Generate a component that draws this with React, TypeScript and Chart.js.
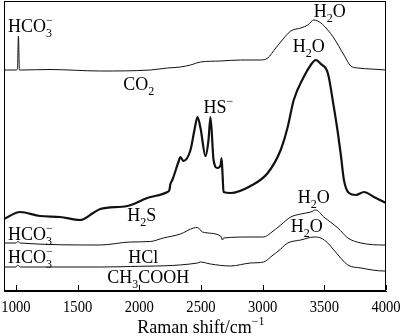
import React, { useEffect, useRef } from "react";
import { Chart, registerables } from "chart.js";

Chart.register(...registerables);

// ---- data (Raman shift in cm^-1, intensity in offset arbitrary units) ----
const xTickValues = [1000, 1500, 2000, 2500, 3000, 3500, 4000];

const co2Shift = [903, 1000, 1012, 1020, 1028, 1041, 1276, 1683, 2089, 2228, 2333, 2415, 2496, 2659, 2821, 2984, 3041, 3106, 3146, 3228, 3309, 3366, 3415, 3472, 3528, 3577, 3659, 3715, 3772, 3878, 4000];
const co2Int = [221, 221, 222, 255, 221, 221, 221.5, 220, 221, 223, 224, 226, 229, 230, 231, 231, 233, 243, 249, 260, 263, 266, 271, 268, 261, 253, 236, 225, 223, 222, 221];

const h2sShift = [903, 1033, 1195, 1358, 1520, 1626, 1683, 1902, 2065, 2228, 2244, 2252, 2268, 2317, 2333, 2358, 2415, 2447, 2472, 2496, 2537, 2561, 2577, 2602, 2634, 2659, 2667, 2675, 2683, 2740, 2902, 3041, 3146, 3203, 3252, 3333, 3390, 3431, 3472, 3528, 3577, 3610, 3634, 3659, 3699, 3756, 3821, 3902, 4000];
const h2sInt = [72, 79, 75, 74, 71, 78, 82, 85, 93, 99, 101, 107, 111, 129, 134, 130, 141, 161, 174, 163, 135, 151, 174, 131, 123, 126, 133, 116, 99, 98, 105, 118, 141, 164, 191, 214, 226, 231, 227, 218, 184, 158, 136, 111, 98, 96, 99, 94, 88];

const hclShift = [903, 1000, 1016, 1033, 1683, 1927, 2089, 2195, 2333, 2439, 2472, 2512, 2659, 2675, 2683, 2902, 3008, 3065, 3146, 3228, 3309, 3390, 3431, 3496, 3610, 3691, 3797, 3984, 4000];
const hclInt = [48, 48, 49.5, 48, 46, 49, 49.5, 53, 57, 63, 63.5, 59, 55, 51, 53, 54, 54, 58, 66, 74, 77, 79, 81, 74, 63, 53, 48, 46, 46];

const aceticShift = [903, 1000, 1016, 1033, 1683, 1927, 2472, 2496, 2577, 2740, 2902, 3008, 3065, 3146, 3203, 3309, 3415, 3472, 3528, 3577, 3691, 3797, 3984, 4000];
const aceticInt = [24, 24, 26, 24, 24, 24.5, 28, 29, 27, 25, 28, 29, 34, 42, 48, 51, 54, 53, 48, 41, 26, 23, 20, 20];

type Seg = { t: string; sub?: string; sup?: string };

const HCO3: Seg[] = [{ t: "HCO", sub: "3", sup: "\u2212" }];
const H2O: Seg[] = [{ t: "H", sub: "2" }, { t: "O" }];

// annotation anchors in data coordinates (left edge, text baseline)
const annotations: { x: number; y: number; segs: Seg[] }[] = [
  { x: 935, y: 259, segs: HCO3 },
  { x: 1870, y: 201, segs: [{ t: "CO", sub: "2" }] },
  { x: 3415, y: 274, segs: H2O },
  { x: 3244, y: 239, segs: H2O },
  { x: 2520, y: 178, segs: [{ t: "HS", sup: "\u2212" }] },
  { x: 1902, y: 70, segs: [{ t: "H", sub: "2" }, { t: "S" }] },
  { x: 935, y: 51, segs: HCO3 },
  { x: 3285, y: 88, segs: H2O },
  { x: 935, y: 28, segs: HCO3 },
  { x: 1911, y: 28, segs: [{ t: "HCl" }] },
  { x: 3228, y: 59, segs: H2O },
  { x: 1740, y: 8, segs: [{ t: "CH", sub: "3" }, { t: "COOH" }] },
];

const axisTitle: Seg[] = [{ t: "Raman shift/cm", sup: "\u22121" }];

const FONT = '"Liberation Serif", "Times New Roman", serif';

function drawRich(ctx: CanvasRenderingContext2D, segs: Seg[], x: number, y: number, size: number, align: "left" | "center", sx = 1) {
  const small = Math.round(size * 0.66);
  let width = 0;
  for (const s of segs) {
    ctx.font = `${size}px ${FONT}`;
    width += ctx.measureText(s.t).width;
    ctx.font = `${small}px ${FONT}`;
    const a = s.sub ? ctx.measureText(s.sub).width : 0;
    const b = s.sup ? ctx.measureText(s.sup).width : 0;
    width += Math.max(a, b);
  }
  ctx.save();
  ctx.translate(x, y);
  ctx.scale(sx, 1);
  let cx = align === "center" ? -width / 2 : 0;
  ctx.textBaseline = "alphabetic";
  ctx.textAlign = "left";
  ctx.fillStyle = "#000";
  for (const s of segs) {
    ctx.font = `${size}px ${FONT}`;
    ctx.fillText(s.t, cx, 0);
    cx += ctx.measureText(s.t).width;
    ctx.font = `${small}px ${FONT}`;
    let adv = 0;
    if (s.sub) {
      ctx.fillText(s.sub, cx, size * 0.25);
      adv = Math.max(adv, ctx.measureText(s.sub).width);
    }
    if (s.sup) {
      ctx.fillText(s.sup, cx, -size * 0.45);
      adv = Math.max(adv, ctx.measureText(s.sup).width);
    }
    cx += adv;
  }
  ctx.restore();
}

const framePlugin = {
  id: "frameAndText",
  afterDraw(chart: any) {
    const { ctx, chartArea } = chart;
    const xs = chart.scales.x;
    const ys = chart.scales.y;
    ctx.save();
    ctx.strokeStyle = "#000";
    ctx.lineWidth = 1;
    ctx.strokeRect(chartArea.left + 0.5, chartArea.top + 0.5, chartArea.right - chartArea.left - 1, chartArea.bottom - chartArea.top - 1);
    for (const t of xs.ticks) {
      const px = Math.round(xs.getPixelForValue(t.value)) + 0.5;
      ctx.beginPath();
      ctx.moveTo(px, chartArea.bottom - 1);
      ctx.lineTo(px, chartArea.bottom - 6);
      ctx.stroke();
      drawRich(ctx, [{ t: String(t.value) }], xs.getPixelForValue(t.value), chartArea.bottom + 21, 17, "center", 0.86);
    }
    drawRich(ctx, axisTitle, xs.getPixelForValue(2500), chartArea.bottom + 42, 18, "center");
    for (const a of annotations) {
      drawRich(ctx, a.segs, xs.getPixelForValue(a.x), ys.getPixelForValue(a.y), 18, "left");
    }
    ctx.restore();
  },
};

function toPoints(xs: number[], ys: number[]) {
  return xs.map((x, i) => ({ x, y: ys[i] }));
}

export default function App() {
  const ref = useRef<HTMLCanvasElement | null>(null);
  useEffect(() => {
    document.body.style.margin = "0";
    const canvas = ref.current;
    if (!canvas) return;
    const line = (label: string, d: { x: number; y: number }[], w: number) => ({
      label,
      data: d,
      borderColor: "#111",
      borderWidth: w,
      pointRadius: 0,
      cubicInterpolationMode: "monotone" as const,
      fill: false,
    });
    const chart = new Chart(canvas, {
      type: "line",
      data: {
        datasets: [
          line("CO2", toPoints(co2Shift, co2Int), 1),
          line("H2S", toPoints(h2sShift, h2sInt), 2.2),
          line("HCl", toPoints(hclShift, hclInt), 1),
          line("CH3COOH", toPoints(aceticShift, aceticInt), 1),
        ],
      },
      options: {
        animation: false,
        responsive: false,
        devicePixelRatio: 1,
        parsing: false as any,
        layout: { padding: { left: 4, right: 14, top: 1, bottom: 45 } },
        plugins: { legend: { display: false }, tooltip: { enabled: false } },
        scales: {
          x: {
            type: "linear",
            min: 903,
            max: 4000,
            afterBuildTicks: (axis: any) => {
              axis.ticks = xTickValues.map((v) => ({ value: v }));
            },
            ticks: { display: false },
            grid: { display: false, drawTicks: false },
            border: { display: true, color: "#000" },
          },
          y: { type: "linear", min: 0, max: 290, display: false },
        },
      },
      plugins: [framePlugin],
    });
    return () => chart.destroy();
  }, []);
  return (
    <div style={{ width: 400, height: 336, background: "#fff" }}>
      <canvas ref={ref} width={400} height={336} style={{ display: "block" }} />
    </div>
  );
}
